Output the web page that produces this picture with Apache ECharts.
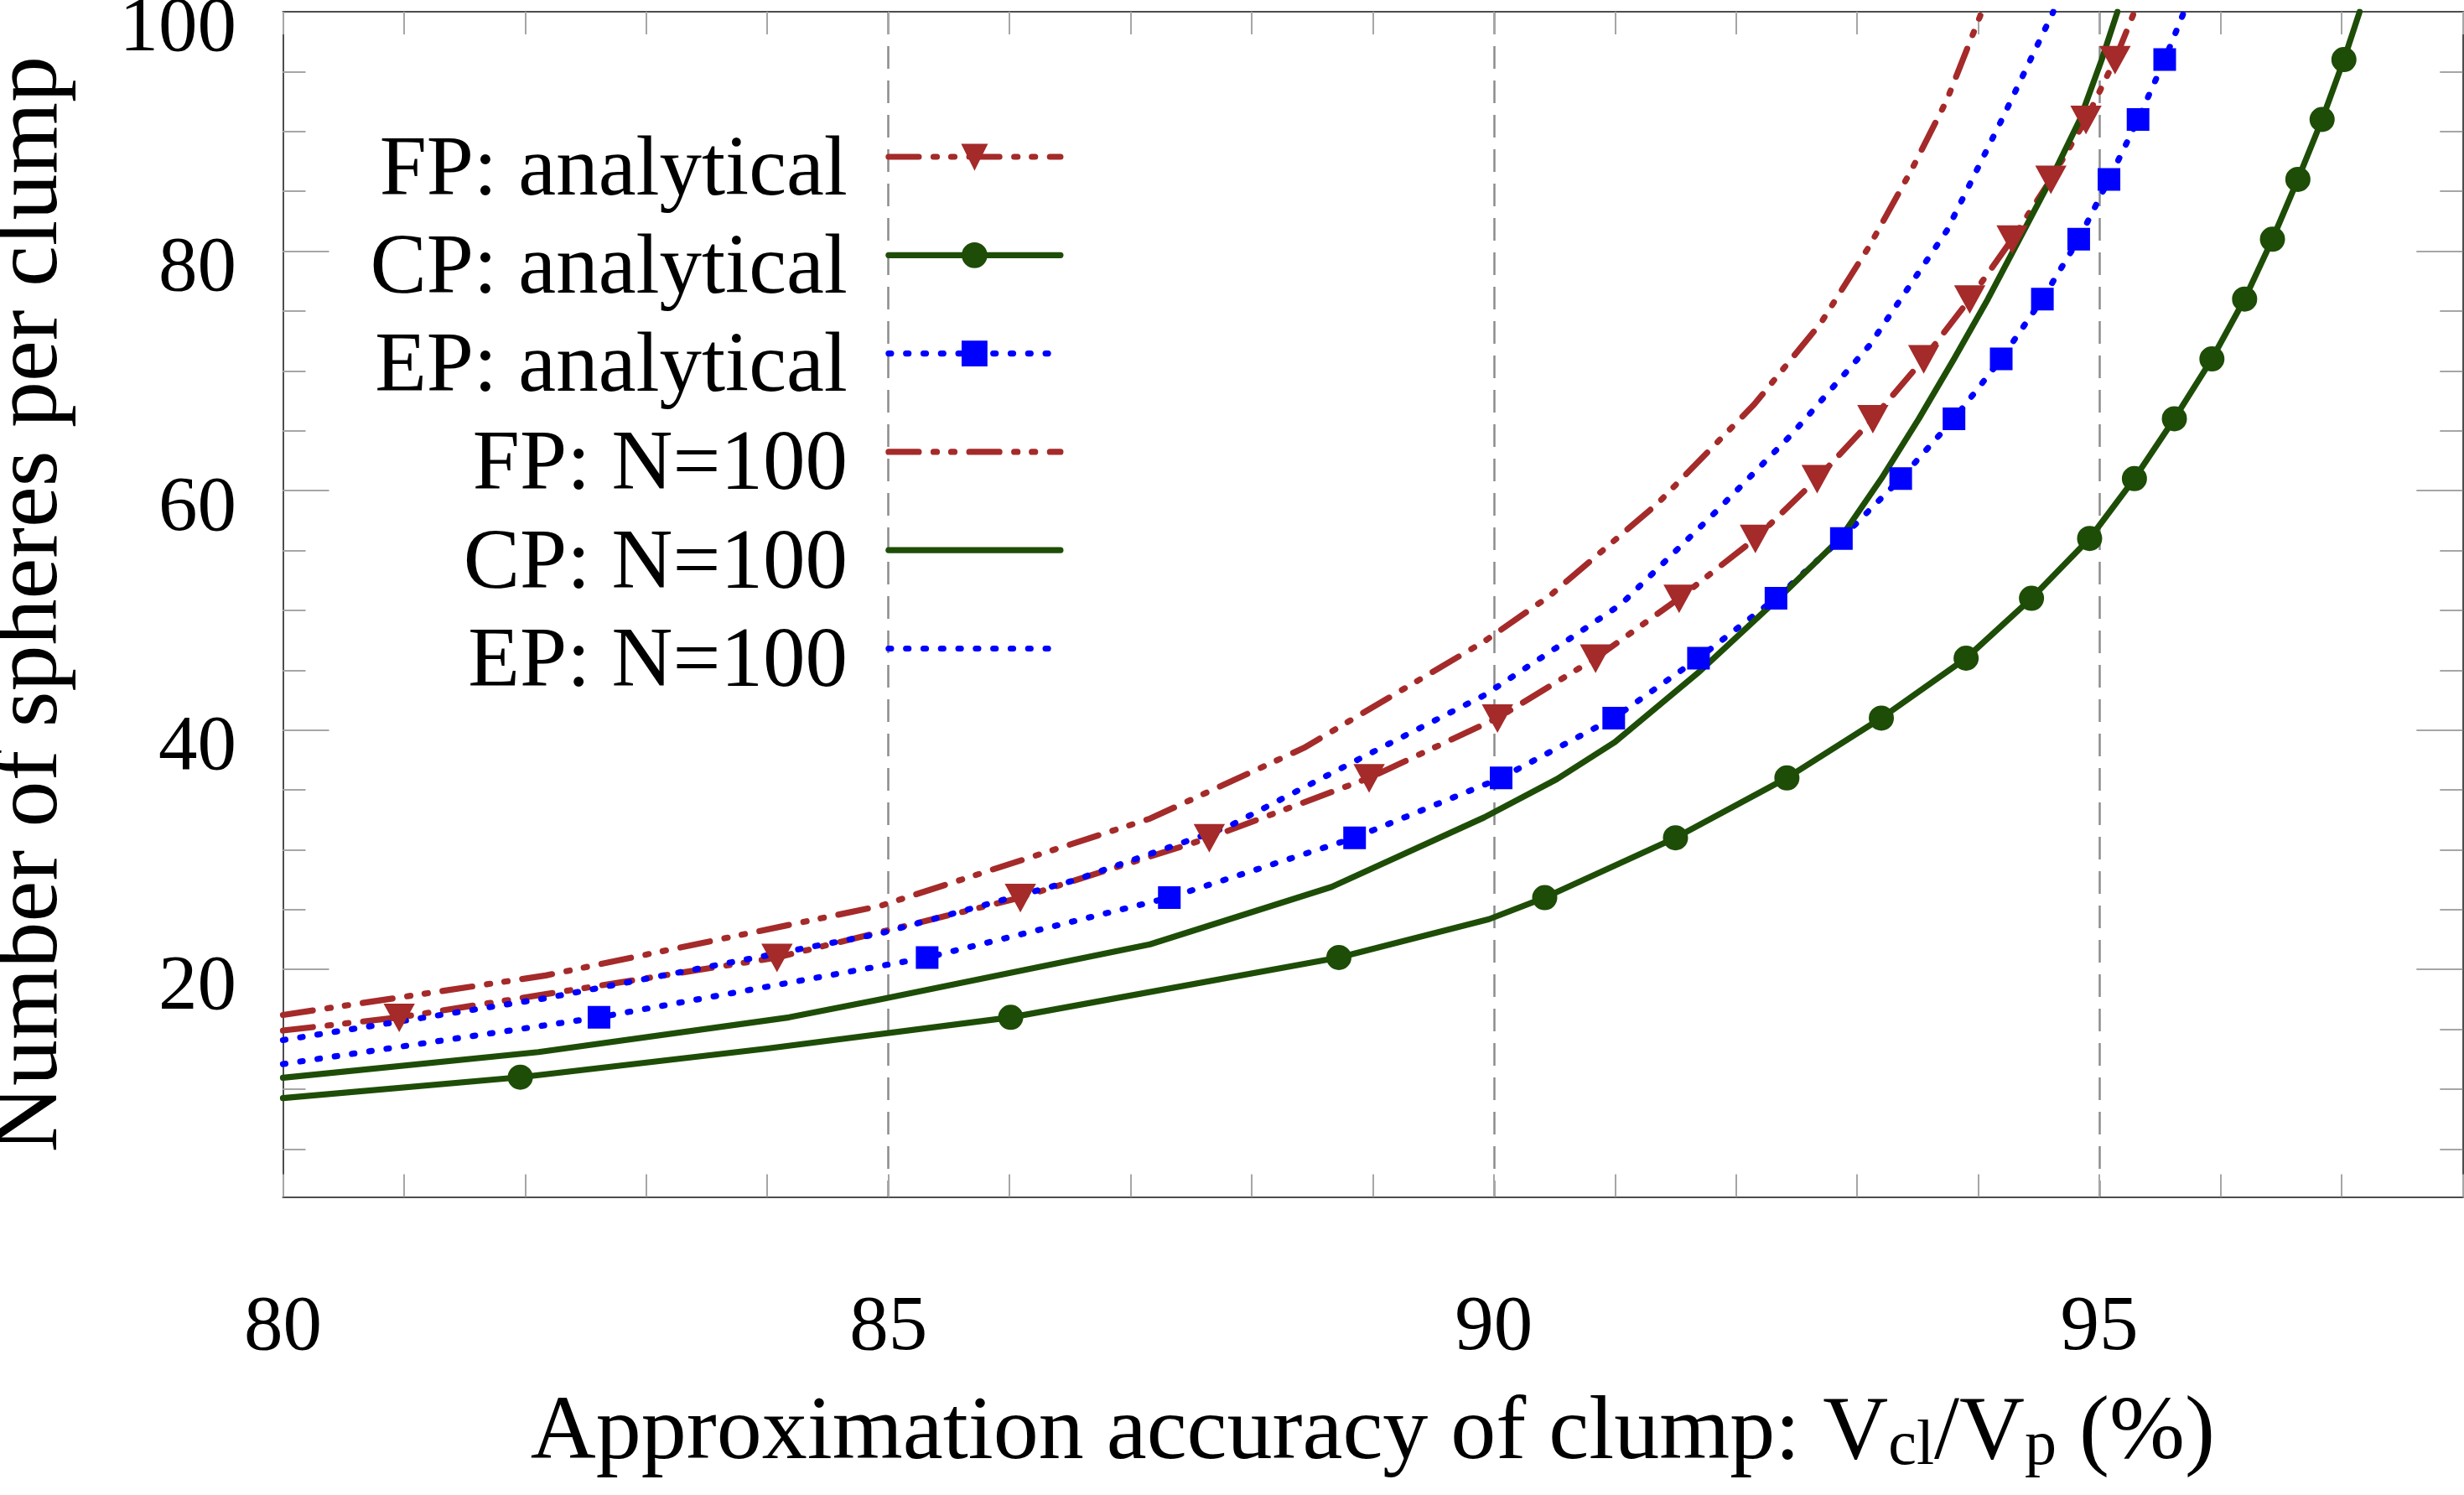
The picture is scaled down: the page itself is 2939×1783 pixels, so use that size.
<!DOCTYPE html>
<html>
<head>
<meta charset="utf-8">
<title>Spheres per clump vs approximation accuracy</title>
<script src="https://cdn.jsdelivr.net/npm/echarts@6.0.0/dist/echarts.min.js"></script>
<style>
  html, body { margin: 0; padding: 0; background: #fff; }
  #chart { width: 2939px; height: 1783px; }
</style>
</head>
<body>
<div id="chart"></div>
<script>
// analytical curves; a marker sits on every point whose N is in markedN,
// the other points only carry the line
const markedN = [11, 16, 21, 26, 31, 36, 41, 46, 51, 56, 61, 66, 71, 76, 81, 86, 91, 96];
const fpAnaX = [80, 80.96, 84.08, 86.09, 87.65, 88.97, 90.03, 90.84, 91.53, 92.16, 92.67, 93.13, 93.55, 93.93, 94.28, 94.60, 94.89, 95.13, 95.29];
const fpAnaY = [14.9, 16, 21, 26, 31, 36, 41, 46, 51, 56, 61, 66, 71, 76, 81, 86, 91, 96, 100];
const cpAnaX = [80, 81.96, 84.0, 86.01, 88.72, 89.96, 90.42, 91.50, 92.42, 93.20, 93.90, 94.44, 94.92, 95.29, 95.62, 95.93, 96.20, 96.43, 96.64, 96.84, 97.02, 97.15];
const cpAnaY = [9.25, 11, 13.4, 16, 21, 24.2, 26, 31, 36, 41, 46, 51, 56, 61, 66, 71, 76, 81, 86, 91, 96, 100];
const epAnaX = [80, 82.61, 85.32, 87.32, 88.85, 90.06, 90.99, 91.69, 92.33, 92.87, 93.36, 93.80, 94.19, 94.53, 94.83, 95.08, 95.32, 95.54, 95.70];
const epAnaY = [12.1, 16, 21, 26, 31, 36, 41, 46, 51, 56, 61, 66, 71, 76, 81, 86, 91, 96, 100];

// N=100 runs
const fpSimX = [80, 82.17, 84.93, 87.16, 88.43, 89.92, 90.46, 91.35, 92.15, 92.7, 93.1, 93.45, 93.74, 94.03];
const fpSimY = [16.2, 19.5, 25.3, 32.6, 38.5, 47.4, 51.2, 58.9, 67.2, 74.0, 80.4, 86.8, 92.6, 100];
const cpSimX = [80, 82.11, 84.18, 84.93, 87.16, 88.66, 89.92, 90.52, 91.0, 91.7, 92.35, 92.86, 93.2, 93.51, 93.8, 94.08, 94.34, 94.6, 94.84, 95.02, 95.15];
const cpSimY = [10.95, 13.1, 16.0, 17.5, 22.1, 26.9, 32.7, 35.9, 39.0, 44.9, 51, 56, 61, 66, 71, 76, 81, 86, 91, 96, 100];
const epSimX = [80, 82.17, 84.93, 86.52, 87.8, 88.91, 89.92, 90.49, 91.05, 91.83, 92.46, 93.1, 93.74, 94.21, 94.62];
const epSimY = [14.1, 17.6, 23.0, 27.4, 31.9, 37.7, 42.9, 46.7, 50.5, 58.2, 64.7, 72.1, 81.7, 91.3, 100];

const xTickLabels = [80, 85, 90, 95];
const yTickLabels = [20, 40, 60, 80, 100];
const yMajorTicks = [20, 40, 60, 80];
const yMinorTicks = [5, 10, 15, 25, 30, 35, 45, 50, 55, 65, 70, 75, 85, 90, 95];

const FONT = 'Liberation Serif';
const BROWN = '#a52a2a';
const GREEN = '#1e4d07';
const BLUE = '#0000ff';
const AXIS = '#4d4d4d';
const TICK = '#a6a6a6';
const LW = 7.2;
const DASH_DOT_DOT = [36, 17.6, 4, 17, 4, 17.6];
const DOTTED = [3, 17.8];

function marked(xs, ys) {
    return xs.map((x, i) => markedN.includes(ys[i])
        ? [x, ys[i]]
        : { value: [x, ys[i]], symbol: 'none' });
}
const plain = (xs, ys) => xs.map((x, i) => [x, ys[i]]);

function lineSeries(name, data, color, type, extra) {
    return Object.assign({
        name,
        type: 'line',
        data,
        symbol: 'none',
        lineStyle: { color, width: LW, type, cap: 'round', join: 'round' },
        itemStyle: { color, borderColor: color, borderWidth: 2 },
        emphasis: { disabled: true },
    }, extra || {});
}

const yBase = {
    type: 'value',
    min: 1,
    max: 100,
    splitLine: { show: false },
    axisLine: { show: true, onZero: false, lineStyle: { color: AXIS, width: 2 } },
};
const tickStyle = { color: TICK, width: 2 };

const chart = echarts.init(document.getElementById('chart'));
chart.setOption({
    animation: false,
    backgroundColor: '#fff',
    grid: { left: 337.5, right: 1.7, top: 14, bottom: 355.5, containLabel: false, outerBoundsMode: 'none' },
    legend: {
        orient: 'vertical',
        align: 'right',
        right: 1670.5,
        top: 137,
        padding: 0,
        itemWidth: 205,
        itemHeight: 36,
        itemGap: -1.2,
        selectedMode: false,
        lineStyle: { width: LW },
        textStyle: {
            fontFamily: FONT, fontSize: 101, color: '#000', lineHeight: 64,
            padding: [36, 44, 0, 0],
            rich: { t: { fontFamily: FONT, fontSize: 101, color: '#000', lineHeight: 64 } },
        },
        data: [
            { name: 'FP: analytical' },
            { name: 'CP: analytical' },
            { name: 'EP: analytical' },
            { name: 'FP: N=100', itemStyle: { opacity: 0 } },
            { name: 'CP: N=100', itemStyle: { opacity: 0 } },
            { name: 'EP: N=100', itemStyle: { opacity: 0 } },
        ],
    },
    xAxis: [
        {
            type: 'value', min: 80, max: 98, interval: 1, position: 'bottom',
            axisLine: { show: true, onZero: false, lineStyle: { color: AXIS, width: 2 } },
            axisTick: { show: true, inside: true, length: 27, lineStyle: tickStyle },
            axisLabel: {
                margin: 111, fontFamily: FONT, fontSize: 93, color: '#000',
                formatter: (v) => (xTickLabels.includes(v) ? String(v) : ''),
            },
            splitLine: { show: false },
            name: 'Approximation accuracy of clump: V{sub|cl}/V{sub|p} (%)',
            nameLocation: 'middle',
            nameGap: 229,
            nameMoveOverlap: false,
            nameTextStyle: {
                fontFamily: FONT, fontSize: 108, lineHeight: 108, color: '#000',
                rich: { sub: { fontFamily: FONT, fontSize: 76, lineHeight: 48, verticalAlign: 'bottom', color: '#000' } },
            },
        },
        {
            type: 'value', min: 80, max: 98, interval: 1, position: 'top',
            axisLine: { show: true, onZero: false, lineStyle: { color: AXIS, width: 2 } },
            axisTick: { show: true, inside: true, length: 27, lineStyle: tickStyle },
            axisLabel: { show: false },
            splitLine: { show: false },
        },
        {
            // dashed grid at the labelled values
            type: 'value', min: 80, max: 98, interval: 5, position: 'bottom',
            axisLine: { show: false },
            axisTick: { show: false },
            axisLabel: { show: false },
            splitLine: {
                show: true, showMinLine: false, showMaxLine: false,
                lineStyle: { color: '#8c8c8c', width: 2.5, type: [27, 14] },
            },
        },
    ],
    yAxis: [
        Object.assign({}, yBase, {
            position: 'left',
            axisTick: { show: true, inside: true, length: 55, customValues: yMajorTicks, lineStyle: tickStyle },
            axisLabel: {
                customValues: yTickLabels,
                margin: 55.5, verticalAlign: 'top', lineHeight: 44,
                fontFamily: FONT, fontSize: 93, color: '#000',
                formatter: (v) => (yTickLabels.includes(v) ? String(v) : ''),
            },
            name: 'Number of spheres per clump',
            nameLocation: 'middle',
            nameRotate: 90,
            nameGap: 244,
            nameMoveOverlap: false,
            nameTextStyle: { fontFamily: FONT, fontSize: 110, lineHeight: 110, color: '#000' },
        }),
        Object.assign({}, yBase, {
            position: 'left',
            axisTick: { show: true, inside: true, length: 27, customValues: yMinorTicks, lineStyle: tickStyle },
            axisLabel: { show: false },
        }),
        Object.assign({}, yBase, {
            position: 'right',
            axisTick: { show: true, inside: true, length: 55, customValues: yMajorTicks, lineStyle: tickStyle },
            axisLabel: { show: false },
        }),
        Object.assign({}, yBase, {
            position: 'right',
            axisTick: { show: true, inside: true, length: 27, customValues: yMinorTicks, lineStyle: tickStyle },
            axisLabel: { show: false },
        }),
    ],
    series: [
        lineSeries('FP: analytical', marked(fpAnaX, fpAnaY), BROWN, DASH_DOT_DOT,
            { symbol: 'triangle', symbolRotate: 180, symbolSize: [34, 31] }),
        lineSeries('CP: analytical', marked(cpAnaX, cpAnaY), GREEN, 'solid',
            { symbol: 'circle', symbolSize: 28 }),
        lineSeries('EP: analytical', marked(epAnaX, epAnaY), BLUE, DOTTED,
            { symbol: 'rect', symbolSize: 25 }),
        lineSeries('FP: N=100', plain(fpSimX, fpSimY), BROWN, DASH_DOT_DOT),
        lineSeries('CP: N=100', plain(cpSimX, cpSimY), GREEN, 'solid'),
        lineSeries('EP: N=100', plain(epSimX, epSimY), BLUE, DOTTED),
    ],
});
</script>
</body>
</html>
